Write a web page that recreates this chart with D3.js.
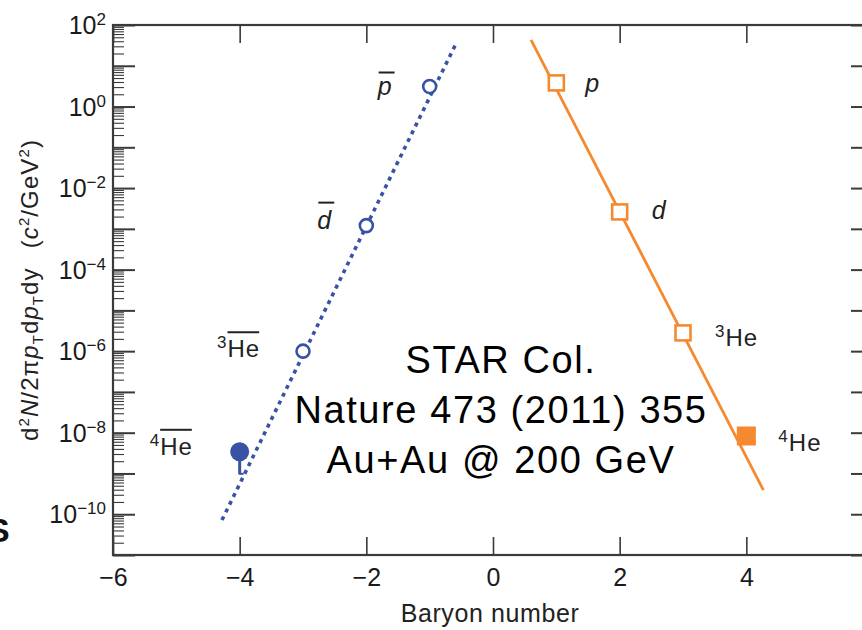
<!DOCTYPE html>
<html>
<head>
<meta charset="utf-8">
<script src="https://cdn.jsdelivr.net/npm/d3@7"></script>
<style>
  html, body { margin: 0; padding: 0; background: #fff; overflow: hidden; }
  svg { display: block; font-family: "Liberation Sans", Arial, Helvetica, sans-serif; }
</style>
</head>
<body>
<svg id="chart" width="862" height="630"></svg>
<script>
// Baryon number of each species
const antiBaryon = [-1, -2, -3, -4];
const matterBaryon = [1, 2, 3, 4];

// Invariant yields d²N/2πpT dpT dy  (c²/GeV²)
const antiYield = [3.1, 1.2e-3, 1.0e-6, 3.4e-9];
const matterYield = [3.8, 2.6e-3, 2.8e-6, 8.3e-9];

// Lower end of the anti-helium-4 error bar
const antiYieldLow = [null, null, null, 9.8e-10];

// Which points are measured with filled markers (helium-4 yields)
const antiFilled = [false, false, false, true];
const matterFilled = [false, false, false, true];

// Exponential fits (straight lines on the log axis), end points
const antiFitX = [-4.28, -0.58];
const antiFitY = [7.2e-11, 36];
const matterFitX = [0.6, 4.27];
const matterFitY = [43, 3.9e-10];

// Species labels: mass-number superscript + symbol
const antiSup = ["", "", "3", "4"];
const antiSym = ["p", "d", "He", "He"];
const matterSup = ["", "", "3", "4"];
const matterSym = ["p", "d", "He", "He"];

// Axis ticks
const xTicks = [-6, -4, -2, 0, 2, 4];
const yMajorExp = [-11, -10, -9, -8, -7, -6, -5, -4, -3, -2, -1, 0, 1, 2];
const yLabelExp = [-10, -8, -6, -4, -2, 0, 2];

const noteLines = ["STAR Col.", "Nature 473 (2011) 355", "Au+Au @ 200 GeV"];

// ---- layout ----
const svg = d3.select("#chart");
const plotL = 113, plotR = 873, plotT = 25, plotB = 555;
const blue = "#3953a4", orange = "#f5892f", ink = "#1a1a1a", axisInk = "#3a3a3a";

const x = d3.scaleLinear().domain([-6, 6]).range([plotL, plotR]);
const y = d3.scaleLog().domain([1e-11, 1e2]).range([plotB, plotT]);

const yMajor = yMajorExp.map(e => Math.pow(10, e));
const yMinor = [];
yMajorExp.slice(0, -1).forEach(e => { for (let k = 2; k <= 9; k++) yMinor.push(k * Math.pow(10, e)); });

function styleAxis(g) {
  g.select(".domain").remove();
  g.selectAll(".tick line").attr("stroke", axisInk).attr("stroke-width", 1.6);
}

// left axis: major + minor ticks pointing inward
svg.append("g").attr("transform", `translate(${plotL},0)`)
  .call(d3.axisLeft(y).tickValues(yMinor).tickSize(-11).tickSizeOuter(0).tickFormat(""))
  .call(styleAxis).selectAll(".tick line").attr("stroke-width", 1.1);
const yAx = svg.append("g").attr("transform", `translate(${plotL},0)`)
  .call(d3.axisLeft(y).tickValues(yMajor).tickSize(-22).tickSizeOuter(0).tickPadding(7)
    .tickFormat(d => {
      const e = Math.round(Math.log10(d));
      return yLabelExp.includes(e) ? String(e) : "";
    }))
  .call(styleAxis);
yAx.selectAll(".tick line").attr("stroke-width", 2);
yAx.selectAll(".tick text").each(function () {
  const t = d3.select(this);
  const e = t.text();
  t.text("");
  if (e === "") return;
  t.attr("font-size", 25).attr("fill", ink).attr("dy", "0.34em").attr("x", -7);
  t.append("tspan").text("10");
  t.append("tspan").attr("font-size", 17).attr("dy", -9)
    .text(e.replace("-", "\u2212"));
});

// right axis (mirror, no labels)
svg.append("g").attr("transform", `translate(${plotR},0)`)
  .call(d3.axisRight(y).tickValues(yMinor).tickSize(-11).tickSizeOuter(0).tickFormat(""))
  .call(styleAxis).selectAll(".tick line").attr("stroke-width", 1.1);
svg.append("g").attr("transform", `translate(${plotR},0)`)
  .call(d3.axisRight(y).tickValues(yMajor).tickSize(-22).tickSizeOuter(0).tickFormat(""))
  .call(styleAxis).selectAll(".tick line").attr("stroke-width", 2);

// bottom axis
const xAx = svg.append("g").attr("transform", `translate(0,${plotB})`)
  .call(d3.axisBottom(x).tickValues(xTicks).tickSize(-18).tickSizeOuter(0).tickPadding(12)
    .tickFormat(d => String(d).replace("-", "\u2212")))
  .call(styleAxis);
xAx.selectAll(".tick text").attr("font-size", 25).attr("fill", ink).attr("y", 13).attr("dy", "0.71em")
  .attr("font-family", "Liberation Sans, Arial, sans-serif");

// top axis
svg.append("g").attr("transform", `translate(0,${plotT})`)
  .call(d3.axisTop(x).tickValues(xTicks).tickSize(-18).tickSizeOuter(0).tickFormat(""))
  .call(styleAxis);

// frame
svg.append("rect").attr("x", plotL).attr("y", plotT)
  .attr("width", plotR - plotL).attr("height", plotB - plotT)
  .attr("fill", "none").attr("stroke", axisInk).attr("stroke-width", 2.2);

// axis titles
svg.append("text").attr("x", 490).attr("y", 622).attr("text-anchor", "middle")
  .attr("font-size", 25).attr("letter-spacing", 0.6).attr("fill", "#222").text("Baryon number");

const yt = svg.append("text").attr("transform", "translate(38,290) rotate(-90)")
  .attr("text-anchor", "middle").attr("font-size", 24).attr("letter-spacing", 1.1).attr("fill", "#222");
yt.append("tspan").text("d");
yt.append("tspan").attr("font-size", 15).attr("dy", -9).text("2");
yt.append("tspan").attr("dy", 9).attr("font-style", "italic").text("N");
yt.append("tspan").text("/2\u03c0");
yt.append("tspan").attr("font-style", "italic").text("p");
yt.append("tspan").attr("font-size", 15).attr("dy", 5).text("T");
yt.append("tspan").attr("dy", -5).text("d");
yt.append("tspan").attr("font-style", "italic").text("p");
yt.append("tspan").attr("font-size", 15).attr("dy", 5).text("T");
yt.append("tspan").attr("dy", -5).text("dy\u2002\u2009(");
yt.append("tspan").attr("font-style", "italic").text("c");
yt.append("tspan").attr("font-size", 15).attr("dy", -9).text("2");
yt.append("tspan").attr("dy", 9).text("/GeV");
yt.append("tspan").attr("font-size", 15).attr("dy", -9).text("2");
yt.append("tspan").attr("dy", 9).text(")");

// cropped glyph at the lower-left edge
svg.append("text").attr("x", -13).attr("y", 542).attr("font-size", 34).attr("font-weight", "bold")
  .attr("fill", "#111").text("S");

// fit lines
const line = d3.line().x(d => x(d[0])).y(d => y(d[1]));
svg.append("path").datum(d3.zip(antiFitX, antiFitY)).attr("d", line)
  .attr("fill", "none").attr("stroke", blue).attr("stroke-width", 3.6)
  .attr("stroke-dasharray", "4,4.6");
svg.append("path").datum(d3.zip(matterFitX, matterFitY)).attr("d", line)
  .attr("fill", "none").attr("stroke", orange).attr("stroke-width", 2.8);

// note
const note = svg.append("text").attr("text-anchor", "middle").attr("font-size", 38)
  .attr("letter-spacing", 1.6).attr("fill", "#000");
noteLines.forEach((s, i) => note.append("tspan").attr("x", 501).attr("y", 373 + i * 50).text(s));

// anti-matter points
antiBaryon.forEach((b, i) => {
  if (antiYieldLow[i] !== null) {
    svg.append("line").attr("x1", x(b)).attr("x2", x(b)).attr("y1", y(antiYield[i])).attr("y2", y(antiYieldLow[i]))
      .attr("stroke", blue).attr("stroke-width", 3);
    svg.append("line").attr("x1", x(b) - 1).attr("x2", x(b) + 4).attr("y1", y(antiYieldLow[i])).attr("y2", y(antiYieldLow[i]))
      .attr("stroke", blue).attr("stroke-width", 2);
  }
  if (antiFilled[i]) {
    svg.append("circle").attr("cx", x(b)).attr("cy", y(antiYield[i])).attr("r", 9.5).attr("fill", blue);
  } else {
    svg.append("circle").attr("cx", x(b)).attr("cy", y(antiYield[i])).attr("r", 6.5)
      .attr("fill", "#fff").attr("stroke", blue).attr("stroke-width", 2.6);
  }
});

// matter points
matterBaryon.forEach((b, i) => {
  const s = matterFilled[i] ? 19 : 15;
  svg.append("rect").attr("x", x(b) - s / 2).attr("y", y(matterYield[i]) - s / 2)
    .attr("width", s).attr("height", s)
    .attr("fill", matterFilled[i] ? orange : "#fff")
    .attr("stroke", matterFilled[i] ? "none" : orange).attr("stroke-width", 2.6);
});

// species labels (offset from their point, in pixels)
const antiOffset = [[-52, 8, 22], [-49, 3, 26], [-86, 6, 25], [-90, 3, 25]];
const matterOffset = [[29, 9], [32, 7], [32, 13], [32, 15]];

function speciesLabel(px, py, sup, sym, bar, barRise) {
  const italic = sup === "";
  const t = svg.append("text").attr("x", px).attr("y", py).attr("fill", "#222")
    .attr("font-size", italic ? 25 : 24).attr("letter-spacing", italic ? 0 : 1);
  if (sup) t.append("tspan").attr("font-size", 17).attr("dy", -9).text(sup);
  t.append("tspan").attr("dy", sup ? 9 : 0).attr("font-style", italic ? "italic" : "normal").text(sym);
  if (bar) {
    const n = t.node();
    const i0 = sup.length, i1 = sup.length + sym.length - 1;
    const x0 = n.getStartPositionOfChar(i0).x + (italic ? 1 : 0);
    const x1 = n.getEndPositionOfChar(i1).x + (italic ? 3 : -1);
    svg.append("line").attr("x1", x0).attr("x2", x1).attr("y1", py - barRise).attr("y2", py - barRise)
      .attr("stroke", "#222").attr("stroke-width", 2);
  }
}
antiBaryon.forEach((b, i) => {
  const o = antiOffset[i];
  speciesLabel(x(b) + o[0], y(antiYield[i]) + o[1], antiSup[i], antiSym[i], true, o[2]);
});
matterBaryon.forEach((b, i) => {
  const o = matterOffset[i];
  speciesLabel(x(b) + o[0], y(matterYield[i]) + o[1], matterSup[i], matterSym[i], false, 0);
});
</script>
</body>
</html>
